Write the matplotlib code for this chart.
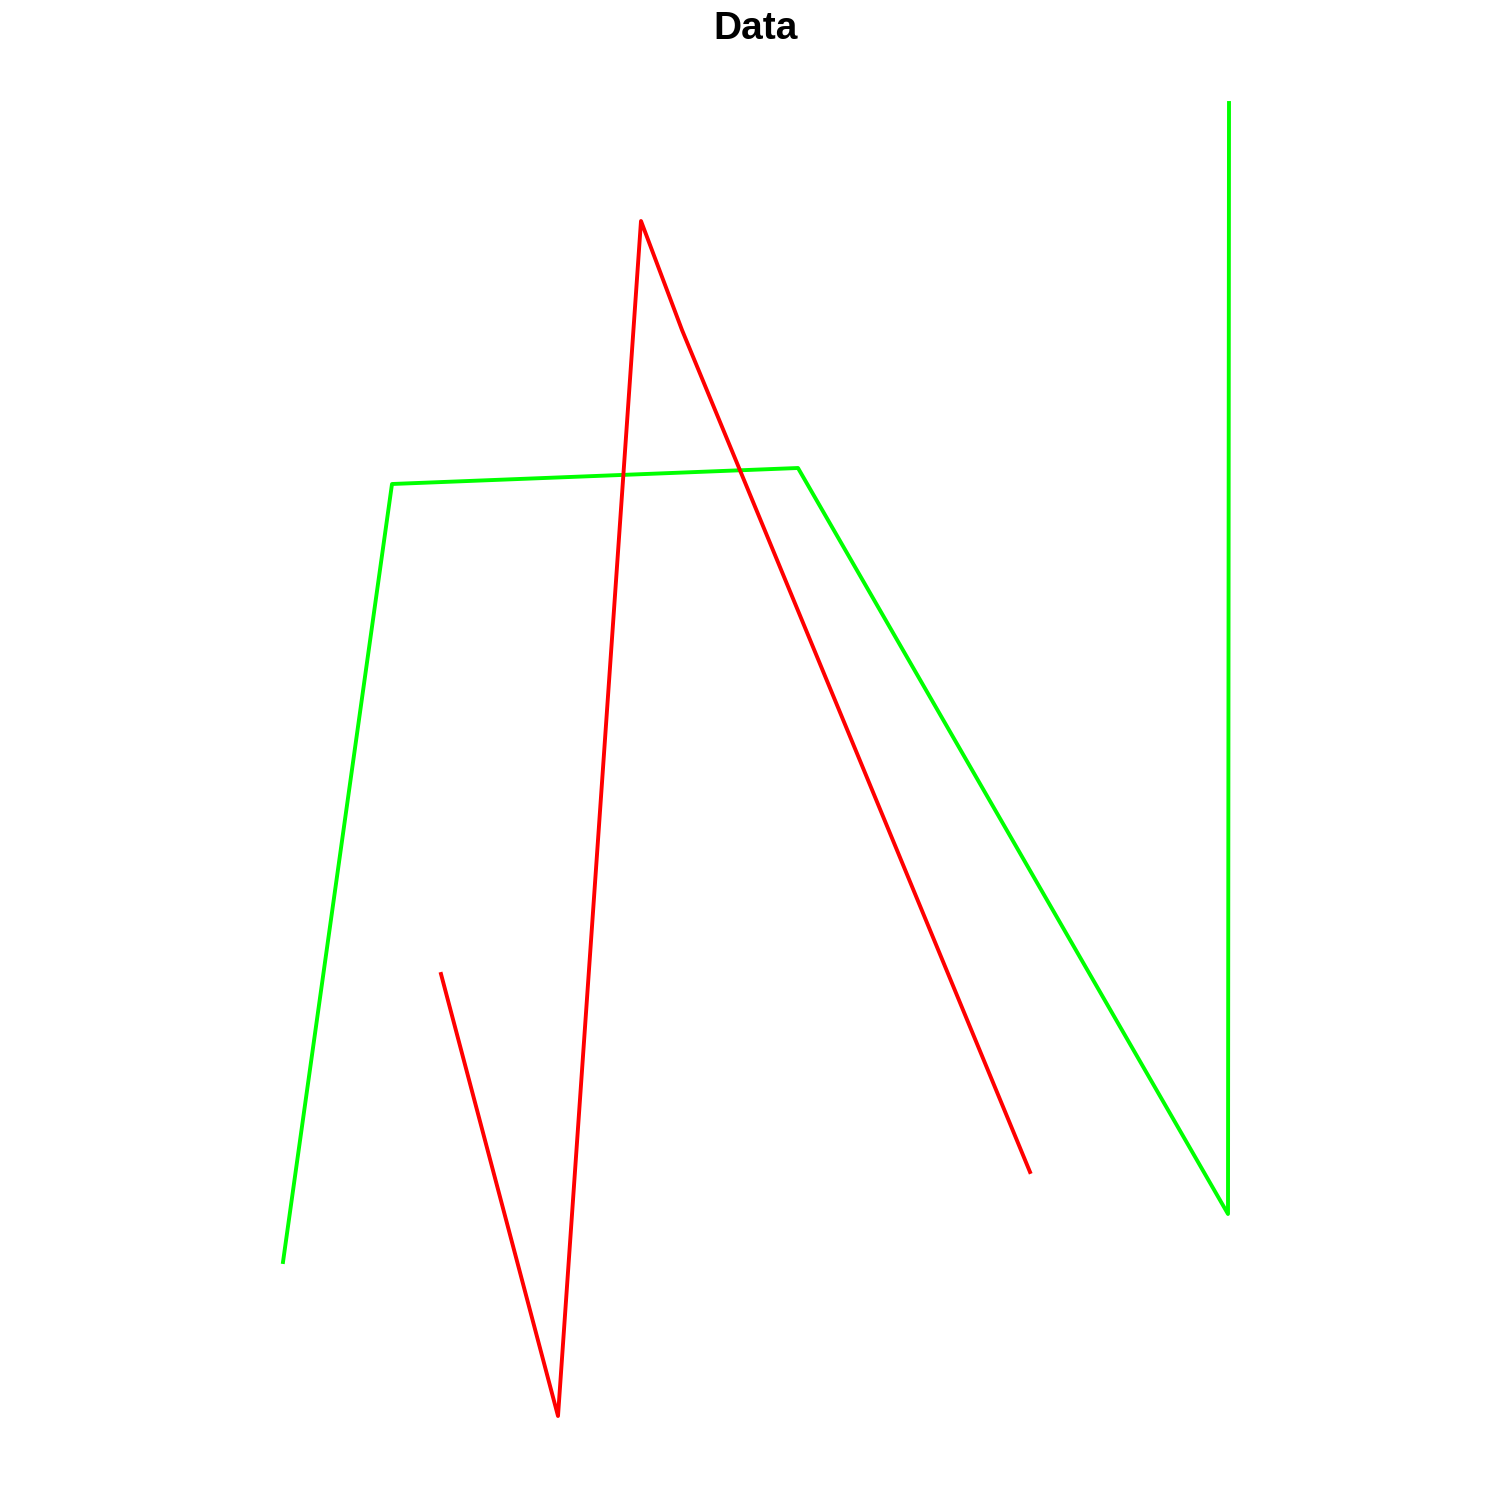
import matplotlib
matplotlib.use("Agg")
import matplotlib.pyplot as plt

# values (arbitrary units, origin bottom-left)
green_x = [283, 392, 798, 1228, 1229]
green_y = [250, 1028, 1044, 298, 1409]
red_x = [441, 558, 641, 682, 1030]
red_y = [538, 96, 1291, 1182, 340]

fig = plt.figure(figsize=(15.12, 15.12), dpi=100)
ax = fig.add_axes([0, 0, 1, 1])
ax.plot(green_x, green_y, color="#00ff00", lw=2.8)
ax.plot(red_x, red_y, color="#ff0000", lw=2.8)
ax.set_xlim(0, 1512)
ax.set_ylim(0, 1512)
ax.axis("off")
fig.text(0.5, 1 - 29 / 1512, "Data", ha="center", va="center",
         fontsize=28, fontweight="bold", family="Liberation Sans")
fig.savefig("out.png", dpi=100)
